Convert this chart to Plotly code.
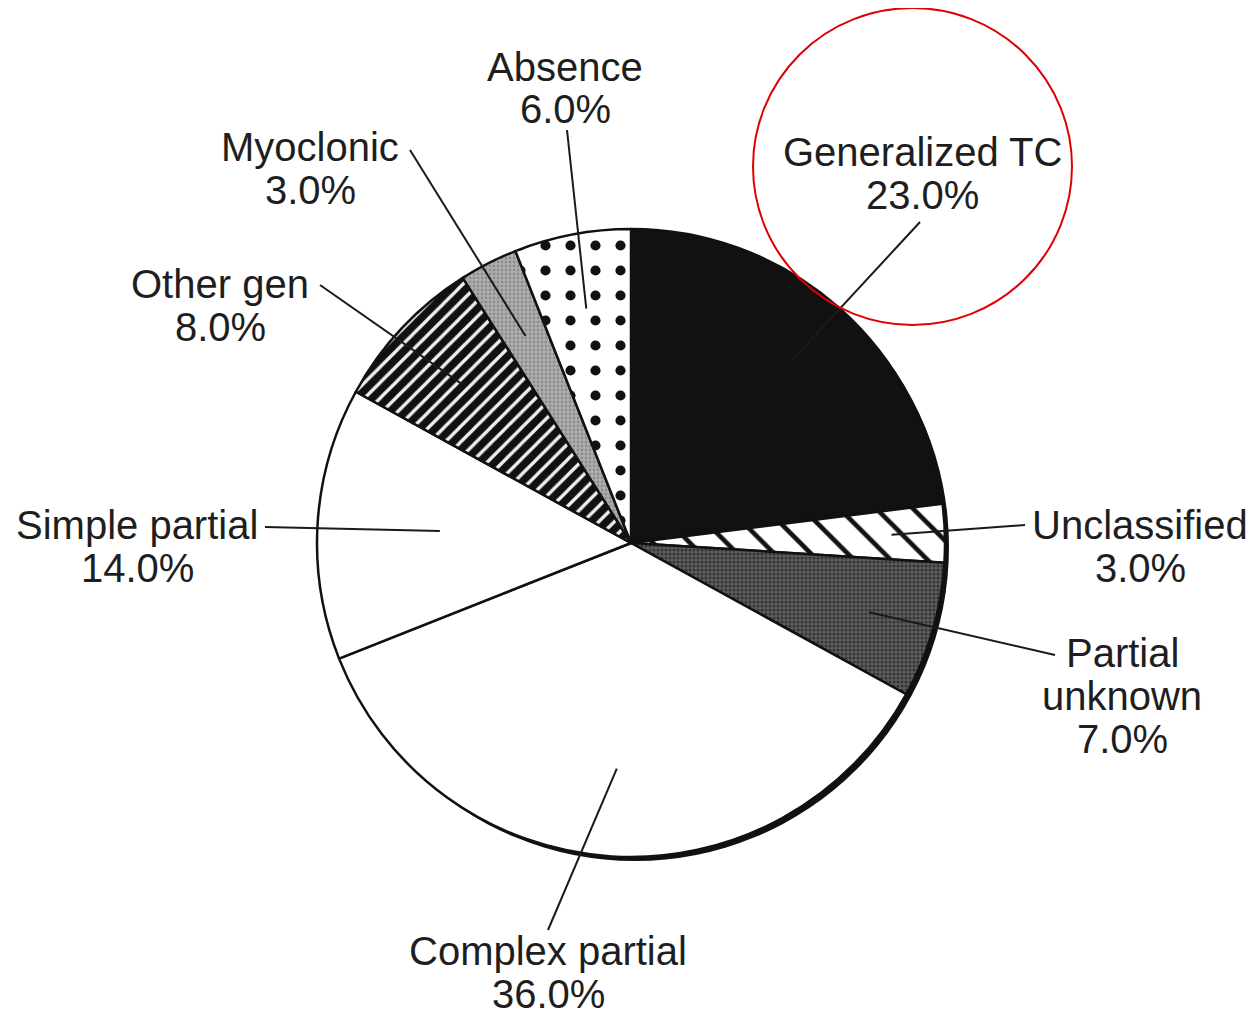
import math
import plotly.graph_objects as go

# ---- data ----
labels = ["Generalized TC", "Unclassified", "Partial unknown", "Complex partial",
          "Simple partial", "Other gen", "Myoclonic", "Absence"]
label_lines = [["Generalized TC"], ["Unclassified"], ["Partial", "unknown"],
               ["Complex partial"], ["Simple partial"], ["Other gen"],
               ["Myoclonic"], ["Absence"]]
values = [23.0, 3.0, 7.0, 36.0, 14.0, 8.0, 3.0, 6.0]

# ---- styles ----
pat_shape = ["", "\\", ".", "", "", "/", ".", "."]
pat_bg = ["#111111", "#ffffff", "#5e5e5e", "#ffffff", "#ffffff", "#111111", "#b0b0b0", "#ffffff"]
pat_fg = ["#111111", "#111111", "#333333", "#111111", "#111111", "#f0f0f0", "#8c8c8c", "#111111"]
pat_size = [10, 26, 4, 10, 10, 11, 4, 25]
pat_sol = [0.3, 0.18, 0.45, 0.3, 0.3, 0.3, 0.4, 0.13]

# ---- layout geometry (window pixels) ----
OFF = 8                      # page body margin
W, H = 1255 - OFF, 1016 - OFF
CX, CY, R = 631, 543, 314
tip_frac = [0.77, 0.83, 0.79, 0.72, 0.61, 0.74, 0.74, 0.76]
text_pos = [(922, 173), (1140, 546), (1122, 696), (548, 972),
            (137, 546), (220, 305), (310, 168), (565, 88)]
lead_start = [(920, 222), (1025, 525), (1055, 655), (548, 930),
              (265, 527), (320, 285), (410, 150), (567, 130)]
FONT = 40
LINE_H = 43


def px(x):
    return (x - OFF) / W


def py(y):
    return 1 - (y - OFF) / H


fig = go.Figure()
fig.add_trace(go.Pie(
    labels=labels, values=values, sort=False, direction="clockwise", rotation=0,
    textinfo="none", hoverinfo="label+percent",
    marker=dict(colors=pat_bg, line=dict(color="#111111", width=2.5),
                pattern=dict(shape=pat_shape, bgcolor=pat_bg, fgcolor=pat_fg,
                             size=pat_size, solidity=pat_sol, fillmode="replace")),
    domain=dict(x=[px(CX - R), px(CX + R)], y=[py(CY + R), py(CY - R)]),
    showlegend=False,
))

total = sum(values)
cum = 0.0
shapes = []
annotations = []

# dark rim / shadow at the lower right of the pie
shapes.append(dict(type="circle", xref="paper", yref="paper", layer="below",
                   x0=px(CX - R + 4), x1=px(CX + R + 4), y0=py(CY + R + 4), y1=py(CY - R + 4),
                   fillcolor="#111111", line=dict(width=0)))

for i, v in enumerate(values):
    mid = (cum + v / 2) / total * 2 * math.pi
    cum += v
    tx = CX + tip_frac[i] * R * math.sin(mid)
    ty = CY - tip_frac[i] * R * math.cos(mid)
    sx, sy = lead_start[i]
    shapes.append(dict(type="line", xref="paper", yref="paper",
                       x0=px(sx), y0=py(sy), x1=px(tx), y1=py(ty),
                       line=dict(color="#1a1a1a", width=2)))
    lines = label_lines[i] + [f"{v:.1f}%"]
    n = len(lines)
    cx_t, cy_t = text_pos[i]
    for k, t in enumerate(lines):
        yk = cy_t + (k - (n - 1) / 2) * LINE_H
        annotations.append(dict(x=px(cx_t), y=py(yk), xref="paper", yref="paper",
                                text=t, showarrow=False, xanchor="center", yanchor="middle",
                                font=dict(family="Liberation Sans, Arial, sans-serif",
                                          size=FONT, color="#1e1e1e")))

# red highlight circle around the Generalized TC label
shapes.append(dict(type="circle", xref="paper", yref="paper",
                   x0=px(753), x1=px(1072), y0=py(325), y1=py(8),
                   line=dict(color="#e00000", width=2)))

fig.update_layout(width=W, height=H, margin=dict(l=0, r=0, t=0, b=0),
                  paper_bgcolor="white", plot_bgcolor="white",
                  shapes=shapes, annotations=annotations)
fig.write_html("out.html")
